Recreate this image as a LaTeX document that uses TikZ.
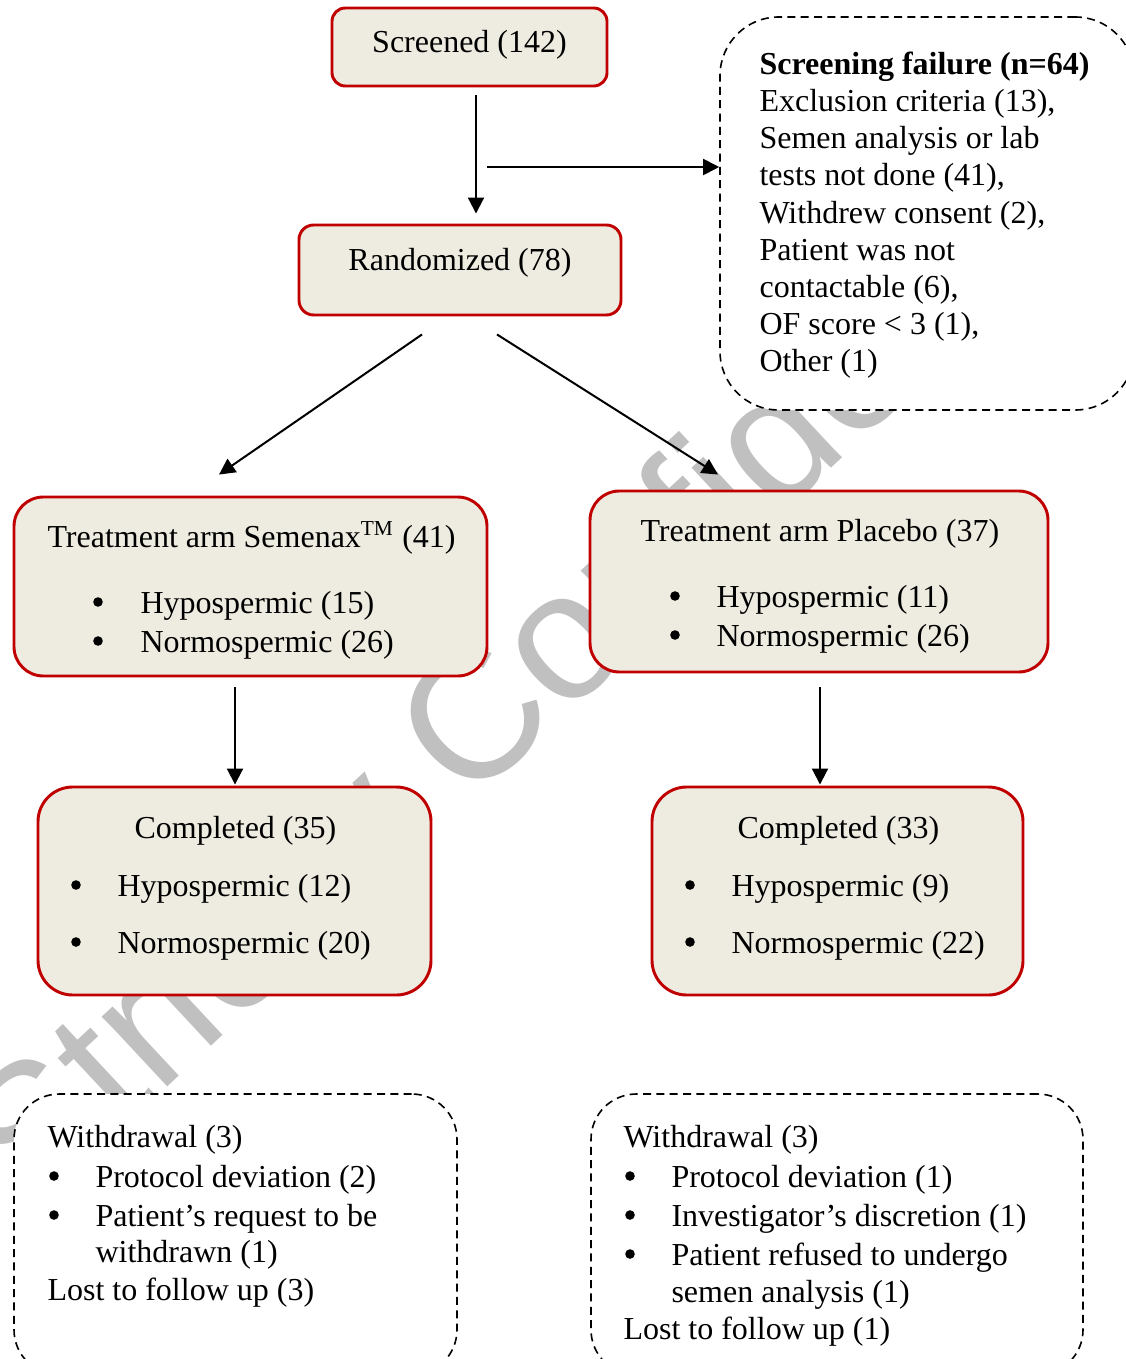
\documentclass[tikz,border=0pt]{standalone}
\usepackage{fontspec}
\setmainfont{Liberation Serif}
\newfontfamily\wmfont{Liberation Sans}
\usetikzlibrary{arrows.meta,calc}
\definecolor{boxred}{HTML}{C00000}
\definecolor{boxfill}{HTML}{EEECE1}
\definecolor{wmgray}{HTML}{C0C0C0}
\begin{document}
\begin{tikzpicture}[x=0.375pt,y=-0.375pt,
  solidbox/.style={draw=boxred, line width=1.1pt, fill=boxfill, rounded corners=#1, inner sep=0pt},
  dashbox/.style={draw=black, line width=0.6pt, dash pattern=on 3pt off 2pt, fill=white, rounded corners=#1, inner sep=0pt},
  txt/.style={inner sep=0pt, anchor=base west, font=\fontsize{12}{13.875}\selectfont},
  ctr/.style={inner sep=0pt, anchor=base, font=\fontsize{12}{13.875}\selectfont},
  dot/.style={circle, fill=black, inner sep=0pt, minimum size=3.6pt},
  arr/.style={line width=0.75pt, -{Triangle[length=6pt,width=6pt]}}]
\useasboundingbox (0,0) rectangle (1126,1359);
% watermark
\node[inner sep=0pt, anchor=base west, rotate=43, text=wmgray, font=\wmfont\fontsize{68}{70}\selectfont] (wm) at (33,1213) {Strictly Confidential};
% boxes
\node[solidbox=5pt, minimum width=103.125pt, minimum height=29.25pt] (scr) at (469.5,47) {};
\node[solidbox=5.5pt, minimum width=120.75pt, minimum height=33.75pt] (rand) at (460,270) {};
\node[dashbox=22pt, minimum width=155.25pt, minimum height=147.375pt] (fail) at (927,213.5) {};
\node[solidbox=11pt, minimum width=177.375pt, minimum height=67.125pt] (sem) at (250.5,586.5) {};
\node[solidbox=11pt, minimum width=171.75pt, minimum height=67.875pt] (plac) at (819,581.5) {};
\node[solidbox=13pt, minimum width=147.375pt, minimum height=78pt] (c35) at (234.5,891) {};
\node[solidbox=13pt, minimum width=139.125pt, minimum height=78pt] (c33) at (837.5,891) {};
\node[dashbox=17pt, minimum width=166.125pt, minimum height=105.375pt] (wl) at (235.5,1234.5) {};
\node[dashbox=17pt, minimum width=184.5pt, minimum height=105.375pt] (wr) at (837,1234.5) {};
% texts
\node[ctr] (tscr) at (469.5,53) {Screened (142)};
\node[ctr] (trand) at (460,270) {Randomized (78)};
\node[txt] (f1) at (759,75) {\bfseries Screening failure (n=64)};
\node[txt] (f2) at (759,112) {Exclusion criteria (13),};
\node[txt] (f3) at (759,149) {Semen analysis or lab};
\node[txt] (f4) at (759,186) {tests not done (41),};
\node[txt] (f5) at (759,223) {Withdrew consent (2),};
\node[txt] (f6) at (759,260) {Patient was not};
\node[txt] (f7) at (759,297) {contactable (6),};
\node[txt] (f8) at (759,334) {OF score < 3 (1),};
\node[txt] (f9) at (759,371) {Other (1)};
\node[txt] (s0) at (47,547) {Treatment arm Semenax\textsuperscript{TM} (41)};
\node[dot] (sb1) at (98,602) {};
\node[txt] (s1) at (140,613) {Hypospermic (15)};
\node[dot] (sb2) at (98,641) {};
\node[txt] (s2) at (140,652) {Normospermic (26)};
\node[txt] (p0) at (640,541) {Treatment arm Placebo (37)};
\node[dot] (pb1) at (675,596) {};
\node[txt] (p1) at (716,607) {Hypospermic (11)};
\node[dot] (pb2) at (675,635) {};
\node[txt] (p2) at (716,646) {Normospermic (26)};
\node[txt] (a0) at (134,838) {Completed (35)};
\node[dot] (ab1) at (76,885) {};
\node[txt] (a1) at (117,896) {Hypospermic (12)};
\node[dot] (ab2) at (76,942) {};
\node[txt] (a2) at (117,953) {Normospermic (20)};
\node[txt] (b0) at (737,838) {Completed (33)};
\node[dot] (bb1) at (690,885) {};
\node[txt] (b1) at (731,896) {Hypospermic (9)};
\node[dot] (bb2) at (690,942) {};
\node[txt] (b2) at (731,953) {Normospermic (22)};
\node[txt] (l0) at (47,1147) {Withdrawal (3)};
\node[dot] (lb1) at (54,1176) {};
\node[txt] (l1) at (95,1187) {Protocol deviation (2)};
\node[dot] (lb2) at (54,1215) {};
\node[txt] (l2) at (95,1226) {Patient’s request to be};
\node[txt] (l3) at (95,1262) {withdrawn (1)};
\node[txt] (l4) at (47,1300) {Lost to follow up (3)};
\node[txt] (r0) at (623,1147) {Withdrawal (3)};
\node[dot] (rb1) at (630,1176) {};
\node[txt] (r1) at (671,1187) {Protocol deviation (1)};
\node[dot] (rb2) at (630,1215) {};
\node[txt] (r2) at (671,1226) {Investigator’s discretion (1)};
\node[dot] (rb3) at (630,1254) {};
\node[txt] (r3) at (671,1265) {Patient refused to undergo};
\node[txt] (r4) at (671,1302) {semen analysis (1)};
\node[txt] (r5) at (623,1339) {Lost to follow up (1)};
% connectors
\coordinate (split) at (487,167);
\draw[arr] ($(scr.south)+(6.5,8)$) -- ($(rand.north)+(16,-10)$);
\draw[arr] (split) -- ($(fail.west)+(0,-46.5)$);
\draw[arr] ($(rand.south)+(-38,18)$) -- ($(sem.north)+(-31.5,-21)$);
\draw[arr] ($(rand.south)+(37,18)$) -- ($(plac.north)+(-101,-15)$);
\draw[arr] ($(sem.south)+(-15.5,10)$) -- ($(c35.north)+(0.5,-1)$);
\draw[arr] ($(plac.south)+(1,14)$) -- ($(c33.north)+(-17.5,-1)$);
\end{tikzpicture}
\end{document}
